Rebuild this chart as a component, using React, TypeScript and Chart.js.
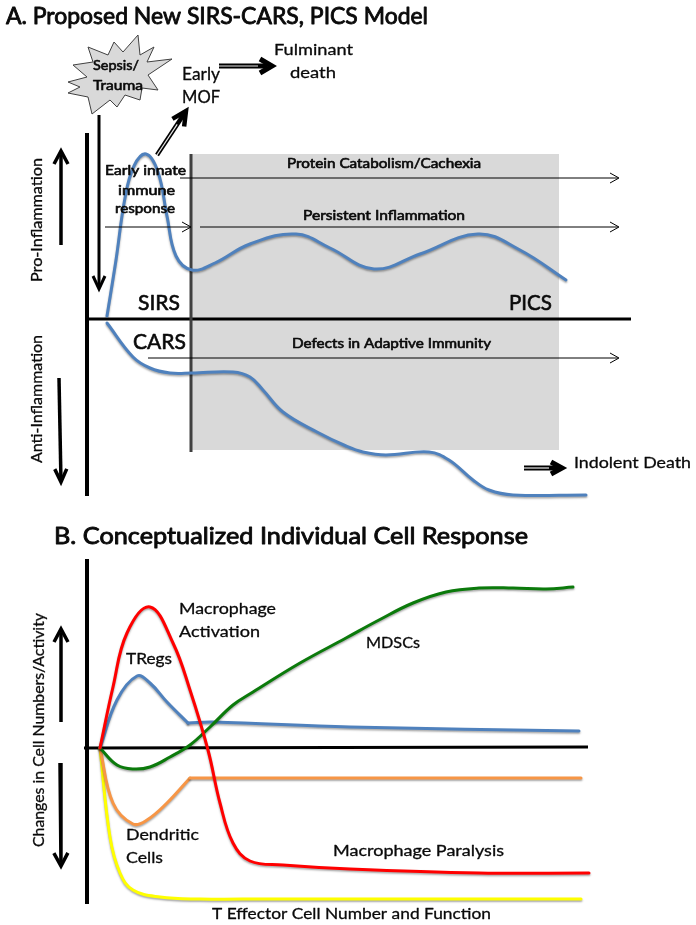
import React, { useEffect, useRef } from "react";
import { Chart, registerables } from "chart.js";

Chart.register(...registerables);

// ---- Panel A curves (in picture units) ----
const sirsX = [107, 116, 125, 134, 146, 158, 167, 176, 192, 215, 250, 296, 330, 374, 420, 478, 520, 566];
const sirsY = [316, 260, 198, 166, 154, 172, 216, 256, 270, 263, 244, 234, 248, 269, 254, 234, 250, 280];
const carsX = [107, 133, 150, 170, 192, 233, 250, 263, 283, 317, 346, 363, 386, 429, 449, 473, 489, 513, 586];
const carsY = [323, 357, 368, 373, 373, 372, 377, 390, 412, 432, 446, 452, 455, 452, 460, 480, 490, 495, 495];

// ---- Panel B curves ----
const macroX = [100, 113, 127, 150, 173, 190, 208, 220, 233, 250, 283, 350, 479, 589];
const macroY = [748, 687, 633, 607, 643, 690, 750, 803, 843, 861, 865, 869, 873, 873];
const tregRiseX = [100, 117, 137, 150, 167, 188];
const tregRiseY = [748, 700, 676, 683, 702, 723];
const tregFlatX = [188, 213, 350, 579];
const tregFlatY = [723, 722, 727, 731];
const mdscX = [100, 117, 133, 150, 170, 190, 210, 233, 253, 300, 346, 379, 413, 446, 479, 513, 546, 573];
const mdscY = [748, 765, 769, 767, 757, 745, 727, 705, 692, 663, 638, 620, 603, 592, 588, 588, 589, 587];
const dendDipX = [100, 113, 133, 147, 167, 190];
const dendDipY = [748, 803, 824, 820, 803, 778];
const dendFlatX = [190, 581];
const dendFlatY = [778, 778];
const teffX = [100, 110, 120, 133, 160, 200, 267, 581];
const teffY = [748, 837, 873, 890, 897, 899, 899, 899];

// ---- Starburst and shaded PICS region ----
const starX = [138, 140, 154, 147, 172, 148, 158, 142, 140, 125, 117, 110, 92, 88, 68, 80, 68, 87, 73, 93, 88, 108, 114, 123];
const starY = [35, 55, 47, 62, 59, 75, 90, 88, 100, 95, 107, 100, 114, 97, 93, 87, 82, 77, 65, 62, 47, 55, 42, 52];
const regionX = [191, 559, 559, 191, 191];
const regionY = [154, 154, 450, 450, 154];

// ---- Text ----
const labels = [
  "A. Proposed New SIRS-CARS, PICS Model", "B. Conceptualized Individual Cell Response",
  "Sepsis/", "Trauma", "Early", "MOF", "Fulminant", "death",
  "Early innate", "immune", "response",
  "Protein Catabolism/Cachexia", "Persistent Inflammation", "Defects in Adaptive Immunity",
  "SIRS", "CARS", "PICS", "Indolent Death",
  "Pro-Inflammation", "Anti-Inflammation", "Changes in Cell Numbers/Activity",
  "Macrophage", "Activation", "TRegs", "Dendritic", "Cells", "MDSCs", "Macrophage Paralysis",
  "T Effector Cell Number and Function",
];
const labelLeft = [
  6, 54, 93, 93, 182, 182, 274, 290, 105, 118, 115, 287, 303, 292, 138, 133, 509, 574,
  42, 42, 44, 179, 179, 126, 126, 126, 366, 333, 212,
];
const labelBase = [
  24, 544, 70, 90, 80, 103, 55, 78, 175, 195, 213, 168, 220, 348, 310, 349, 310, 468,
  282, 463, 847, 614, 637, 664, 840, 863, 648, 856, 919,
];
const labelWidth = [
  422, 474, 46, 50, 38, 38, 79, 46, 81, 57, 60, 194, 162, 199, 42, 53, 43, 117,
  124, 128, 234, 97, 81, 46, 73, 37, 54, 171, 279,
];
const labelSize = [
  24, 24, 14, 14, 17, 17, 16, 16, 13, 13, 13, 13, 13, 13, 21, 21, 21, 16,
  15, 15, 16, 16, 16, 15, 16, 16, 15, 15, 16,
];
const labelBold = [
  0, 0, 0, 0, 0, 0, 0, 0, 0, 0, 0, 0, 0, 0, 0, 0, 0, 0,
  0, 0, 0, 0, 0, 0, 0, 0, 0, 0, 0,
];
const labelStroke = [
  0.9, 0.9, 0.6, 0.6, 0.3, 0.3, 0.3, 0.3, 0.6, 0.6, 0.6, 0.6, 0.6, 0.6, 0.6, 0.6, 0.6, 0.3,
  0.3, 0.3, 0.3, 0.3, 0.3, 0.3, 0.3, 0.3, 0.3, 0.3, 0.3,
];
const labelVertical = [
  0, 0, 0, 0, 0, 0, 0, 0, 0, 0, 0, 0, 0, 0, 0, 0, 0, 0,
  1, 1, 1, 0, 0, 0, 0, 0, 0, 0, 0,
];

const pts = (xs: number[], ys: number[]) => xs.map((x, i) => ({ x, y: ys[i] }));

const polyline = (data: any[], color: string, width: number, extra: any = {}) => ({
  data,
  showLine: true,
  borderColor: color,
  borderWidth: width,
  pointRadius: 0,
  backgroundColor: "transparent",
  borderCapStyle: "butt",
  borderJoinStyle: "miter",
  tension: 0,
  clip: false,
  ...extra,
});

const curve = (xs: number[], ys: number[], color: string, width = 3) =>
  polyline(pts(xs, ys), color, width, {
    tension: 0.4,
    borderCapStyle: "round",
    borderJoinStyle: "round",
    castShadow: true,
  });

const arrow = (
  tail: number[], tip: number[], len: number, half: number, width: number,
  hollow = false, color = "#000000",
) => {
  const dx = tip[0] - tail[0], dy = tip[1] - tail[1];
  const d = Math.hypot(dx, dy), ux = dx / d, uy = dy / d;
  const head = [
    { x: tip[0] - ux * len - uy * half, y: tip[1] - uy * len + ux * half },
    { x: tip[0], y: tip[1] },
    { x: tip[0] - ux * len + uy * half, y: tip[1] - uy * len - ux * half },
  ];
  const shaft = [
    { x: tail[0], y: tail[1] },
    { x: tip[0] - ux * width, y: tip[1] - uy * width },
  ];
  const sets: any[] = [polyline(shaft, color, width), polyline(head, color, width)];
  if (hollow) {
    const inner = [
      { x: tail[0], y: tail[1] },
      { x: tip[0] - ux * (len + 2), y: tip[1] - uy * (len + 2) },
    ];
    sets.push(polyline(inner, "#e8e8e8", 1.2));
  }
  return sets;
};

const segment = (a: number[], b: number[], color: string, width: number) =>
  polyline([{ x: a[0], y: a[1] }, { x: b[0], y: b[1] }], color, width);

const layers: any[] = [
  polyline(pts(regionX, regionY), "transparent", 0, { fill: "shape", backgroundColor: "#d9d9d9" }),
  polyline(pts([...starX, starX[0]], [...starY, starY[0]]), "#404040", 1, { fill: "shape", backgroundColor: "#d9d9d9" }),

  // Panel A frame
  segment([87, 133], [87, 496], "#000000", 4),
  segment([87, 319], [631, 319], "#000000", 3),
  segment([191, 154], [191, 452], "#404040", 3),
  curve(sirsX, sirsY, "#4f81bd"),
  curve(carsX, carsY, "#4f81bd"),

  // Panel A arrows
  ...arrow([99, 115], [99, 289], 13, 6, 3),
  ...arrow([61, 245], [61, 151], 13, 7, 3.5),
  ...arrow([59, 378], [61, 482], 13, 6, 3.5),
  ...arrow([157, 155], [186, 111], 14, 7, 4.5, true),
  ...arrow([219, 66], [272, 66], 12, 7, 5, true),
  ...arrow([524, 468], [562, 468], 11, 6, 5, true),
  ...arrow([180, 178], [619, 178], 9, 5, 1),
  ...arrow([105, 227], [191, 227], 9, 5, 1),
  ...arrow([200, 227], [619, 227], 9, 5, 1),
  ...arrow([148, 358], [619, 358], 9, 5, 1),

  // Panel B frame
  segment([87, 559], [87, 904], "#000000", 4),
  segment([84, 748], [588, 747], "#000000", 3),
  ...arrow([61, 722], [61, 629], 13, 7, 3.5),
  ...arrow([60, 763], [61, 866], 13, 7, 3.5),

  // Panel B curves
  curve(teffX, teffY, "#ffff00"),
  curve(dendDipX, dendDipY, "#f79646"),
  curve(dendFlatX, dendFlatY, "#f79646"),
  curve(tregRiseX, tregRiseY, "#4f81bd"),
  curve(tregFlatX, tregFlatY, "#4f81bd"),
  curve(mdscX, mdscY, "#0b7a0b"),
  curve(macroX, macroY, "#ff0000"),
];

const shadowPlugin = {
  id: "curveShadow",
  beforeDatasetDraw(chart: any, args: any) {
    if (chart.data.datasets[args.index].castShadow) {
      const c = chart.ctx;
      c.save();
      c.shadowColor = "rgba(0,0,0,0.35)";
      c.shadowBlur = 2;
      c.shadowOffsetY = 1.5;
    }
  },
  afterDatasetDraw(chart: any, args: any) {
    if (chart.data.datasets[args.index].castShadow) chart.ctx.restore();
  },
};

const textPlugin = {
  id: "chartText",
  afterDatasetsDraw(chart: any) {
    const { ctx, scales } = chart;
    labels.forEach((text, i) => {
      ctx.save();
      ctx.font = `${labelBold[i] ? "bold " : ""}${labelSize[i]}px Lato, "Open Sans", sans-serif`;
      ctx.fillStyle = "#0a0a0a";
      ctx.textBaseline = "alphabetic";
      ctx.textAlign = "left";
      const natural = ctx.measureText(text).width;
      ctx.translate(scales.x.getPixelForValue(labelLeft[i]), scales.y.getPixelForValue(labelBase[i]));
      if (labelVertical[i]) ctx.rotate(-Math.PI / 2);
      ctx.scale(labelWidth[i] / natural, 1);
      ctx.fillText(text, 0, 0);
      ctx.strokeStyle = "#0a0a0a";
      ctx.lineWidth = labelStroke[i];
      ctx.lineJoin = "round";
      ctx.strokeText(text, 0, 0);
      ctx.restore();
    });
  },
};

export default function App() {
  const ref = useRef<HTMLCanvasElement | null>(null);
  useEffect(() => {
    if (!ref.current) return;
    const n = layers.length;
    const chart = new Chart(ref.current, {
      type: "scatter",
      data: { datasets: layers.map((l, i) => ({ ...l, order: n - i })) },
      options: {
        animation: false,
        responsive: false,
        devicePixelRatio: 1,
        layout: { padding: 0 },
        plugins: { legend: { display: false }, tooltip: { enabled: false }, title: { display: false } },
        scales: {
          x: { type: "linear", min: 0, max: 696, display: false },
          y: { type: "linear", min: 0, max: 925, reverse: true, display: false },
        },
      },
      plugins: [shadowPlugin, textPlugin],
    } as any);
    return () => chart.destroy();
  }, []);
  return (
    <canvas
      ref={ref}
      width={696}
      height={925}
      style={{ position: "absolute", left: 0, top: 0, width: 696, height: 925, display: "block" }}
    />
  );
}
